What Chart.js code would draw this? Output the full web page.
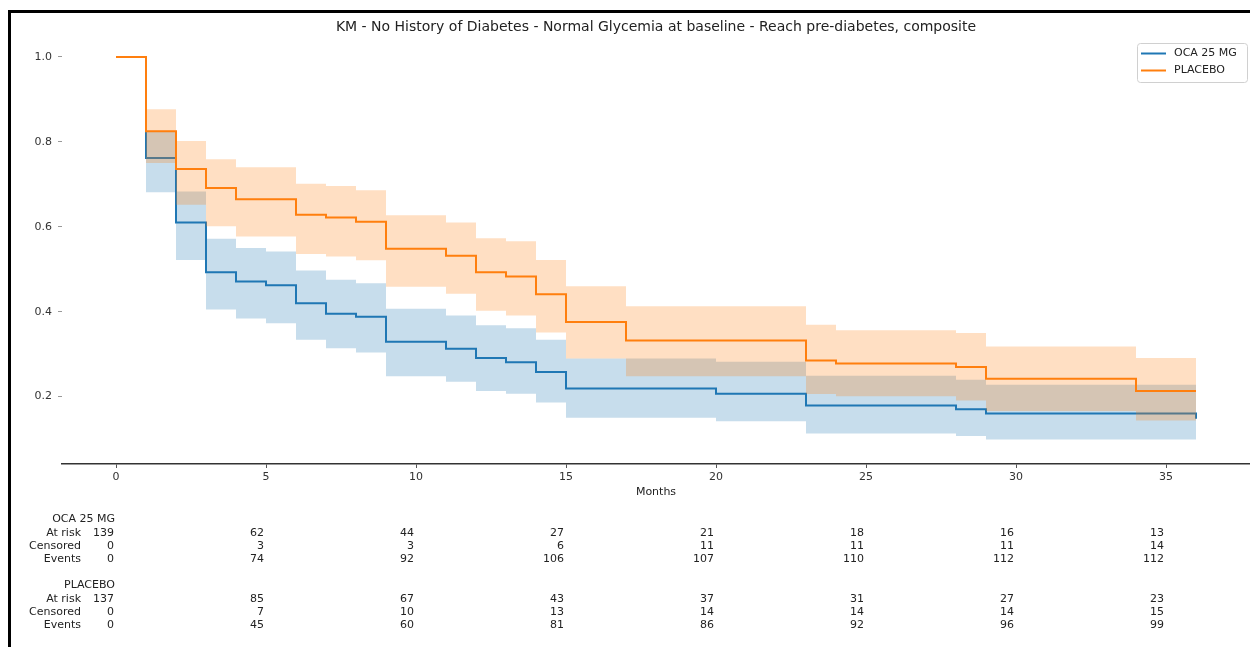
<!DOCTYPE html>
<html>
<head>
<meta charset="utf-8">
<script src="https://cdn.jsdelivr.net/npm/chart.js@4.4.1/dist/chart.umd.min.js"></script>
<style>
  html, body { margin: 0; padding: 0; background: #fff; }
  #wrap { position: relative; width: 1250px; height: 647px; overflow: hidden; }
  #frame { position: absolute; left: 8px; top: 10px; width: 1300px; height: 700px;
           border-top: 3px solid #000; border-left: 3px solid #000; }
  canvas { position: absolute; left: 0; top: 0; }
</style>
</head>
<body>
<div id="wrap">
  <canvas id="chart1" width="1250" height="647"></canvas>
  <div id="frame"></div>
</div>
<script>
// KM estimates (months / survival / CI)
const ocaMonths = [0, 1, 2, 3, 4, 5, 6, 7, 8, 9, 11, 12, 13, 14, 15, 20, 23, 28, 29, 36];
const ocaSurv   = [1.0, 0.762, 0.610, 0.493, 0.471, 0.462, 0.420, 0.395, 0.388, 0.329, 0.313, 0.291, 0.281, 0.258, 0.219, 0.207, 0.179, 0.170, 0.160, 0.148];
const ocaUpper  = [1.0, 0.823, 0.683, 0.572, 0.550, 0.542, 0.497, 0.475, 0.467, 0.407, 0.391, 0.368, 0.361, 0.334, 0.290, 0.282, 0.249, 0.240, 0.228, 0.220];
const ocaLower  = [1.0, 0.681, 0.522, 0.405, 0.384, 0.373, 0.334, 0.314, 0.304, 0.248, 0.235, 0.213, 0.207, 0.186, 0.150, 0.142, 0.113, 0.107, 0.099, 0.087];

const placeboMonths = [0, 1, 2, 3, 4, 6, 7, 8, 9, 11, 12, 13, 14, 15, 17, 23, 24, 28, 29, 34, 36];
const placeboSurv   = [1.0, 0.825, 0.736, 0.691, 0.665, 0.628, 0.622, 0.612, 0.548, 0.532, 0.493, 0.483, 0.441, 0.376, 0.332, 0.285, 0.278, 0.270, 0.242, 0.213, 0.213];
const placeboUpper  = [1.0, 0.877, 0.802, 0.759, 0.740, 0.701, 0.696, 0.686, 0.627, 0.610, 0.573, 0.566, 0.522, 0.460, 0.413, 0.369, 0.356, 0.350, 0.318, 0.291, 0.291];
const placeboLower  = [1.0, 0.750, 0.652, 0.601, 0.577, 0.536, 0.530, 0.521, 0.459, 0.442, 0.402, 0.391, 0.351, 0.290, 0.248, 0.206, 0.201, 0.191, 0.166, 0.144, 0.144];

// at-risk table
const tableMonths = [0, 5, 10, 15, 20, 25, 30, 35];
const ocaAtRisk     = [139, 62, 44, 27, 21, 18, 16, 13];
const ocaCensored   = [0, 3, 3, 6, 11, 11, 11, 14];
const ocaEvents     = [0, 74, 92, 106, 107, 110, 112, 112];
const placeboAtRisk   = [137, 85, 67, 43, 37, 31, 27, 23];
const placeboCensored = [0, 7, 10, 13, 14, 14, 14, 15];
const placeboEvents   = [0, 45, 60, 81, 86, 92, 96, 99];

const titleText = 'KM - No History of Diabetes - Normal Glycemia at baseline - Reach pre-diabetes, composite';
const blue = '#1f77b4';
const orange = '#ff7f0e';

//helper functions
function toPoints(xs, ys) {
    return xs.map((x, i) => ({x: x, y: ys[i]}));
}

function bandSet(label, xs, ys, color, fill) {
    return {
        label: label,
        data: toPoints(xs, ys),
        stepped: true,
        pointRadius: 0,
        borderWidth: 0,
        borderColor: 'rgba(0,0,0,0)',
        backgroundColor: color,
        fill: fill
    };
}

function lineSet(label, xs, ys, color) {
    return {
        label: label,
        data: toPoints(xs, ys),
        stepped: true,
        pointRadius: 0,
        borderWidth: 2,
        borderColor: color,
        fill: false
    };
}

// extra text: title, axis label, at-risk table, legend
const extras = {
    id: 'extras',
    afterDraw(chart) {
        const ctx = chart.ctx;
        const xs = chart.scales.x;
        const area = chart.chartArea;
        const mid = (area.left + area.right) / 2;
        ctx.save();
        ctx.fillStyle = '#222';
        ctx.textBaseline = 'middle';
        ctx.textAlign = 'center';
        ctx.font = '14px "DejaVu Sans"';
        ctx.fillText(titleText, mid, 27);
        ctx.font = '11px "DejaVu Sans"';
        ctx.fillText('Months', mid, 492);

        const groups = [
            {name: 'OCA 25 MG', y: 519, rows: [ocaAtRisk, ocaCensored, ocaEvents]},
            {name: 'PLACEBO', y: 585, rows: [placeboAtRisk, placeboCensored, placeboEvents]}
        ];
        const rowNames = ['At risk', 'Censored', 'Events'];
        ctx.textAlign = 'right';
        groups.forEach(g => {
            ctx.fillText(g.name, xs.getPixelForValue(0) - 1, g.y);
            g.rows.forEach((vals, r) => {
                const y = g.y + 14 + r * 13;
                ctx.fillText(rowNames[r], 81, y);
                tableMonths.forEach((m, i) => {
                    ctx.fillText(String(vals[i]), xs.getPixelForValue(m) - 2, y);
                });
            });
        });

        // legend box
        const bx = 1137, by = 43, bw = 110, bh = 39;
        ctx.beginPath();
        ctx.roundRect(bx + 0.5, by + 0.5, bw, bh, 3);
        ctx.fillStyle = 'rgba(255,255,255,0.8)';
        ctx.fill();
        ctx.strokeStyle = '#d0d0d0';
        ctx.lineWidth = 1;
        ctx.stroke();
        const items = [['OCA 25 MG', blue], ['PLACEBO', orange]];
        items.forEach((it, i) => {
            const y = by + 10.5 + i * 17;
            ctx.beginPath();
            ctx.moveTo(bx + 4, y);
            ctx.lineTo(bx + 29, y);
            ctx.strokeStyle = it[1];
            ctx.lineWidth = 2;
            ctx.stroke();
            ctx.fillStyle = '#222';
            ctx.textAlign = 'left';
            ctx.font = '11px "DejaVu Sans"';
            ctx.fillText(it[0], bx + 37, y);
        });
        ctx.restore();
    }
};

// Creating chart
function createChart() {
    const ctx = document.getElementById('chart1');
    new Chart(ctx, {
        type: 'line',
        data: {
            datasets: [
                lineSet('PLACEBO', placeboMonths, placeboSurv, orange),
                bandSet('PLACEBO upper', placeboMonths, placeboUpper, 'rgba(255,127,14,0.25)', '+1'),
                bandSet('PLACEBO lower', placeboMonths, placeboLower, 'rgba(0,0,0,0)', false),
                lineSet('OCA 25 MG', ocaMonths, ocaSurv, blue),
                bandSet('OCA upper', ocaMonths, ocaUpper, 'rgba(31,119,180,0.25)', '+1'),
                bandSet('OCA lower', ocaMonths, ocaLower, 'rgba(0,0,0,0)', false)
            ]
        },
        options: {
            responsive: false,
            maintainAspectRatio: false,
            devicePixelRatio: 1,
            animation: false,
            events: [],
            layout: { padding: { top: 37.5, left: 0, right: 0, bottom: 0 } },
            plugins: {
                legend: { display: false },
                tooltip: { enabled: false },
                title: { display: false }
            },
            scales: {
                x: {
                    type: 'linear',
                    min: -1.8,
                    max: 37.8,
                    afterFit: s => { s.height = 183; },
                    border: { display: true, color: '#333', width: 1.5 },
                    grid: { display: true, drawOnChartArea: false, tickLength: 4, color: '#555' },
                    ticks: {
                        stepSize: 5,
                        includeBounds: false,
                        padding: 3,
                        color: '#333',
                        font: { family: 'DejaVu Sans', size: 11 }
                    }
                },
                y: {
                    type: 'linear',
                    min: 0.0413,
                    max: 1.0457,
                    afterFit: s => { s.width = 62; },
                    border: { display: false },
                    grid: { display: true, drawOnChartArea: false, tickLength: 4, color: '#999' },
                    ticks: {
                        stepSize: 0.2,
                        includeBounds: false,
                        padding: 6,
                        color: '#333',
                        font: { family: 'DejaVu Sans', size: 11 },
                        callback: v => v.toFixed(1)
                    }
                }
            }
        },
        plugins: [extras]
    });
}

createChart();
</script>
</body>
</html>
